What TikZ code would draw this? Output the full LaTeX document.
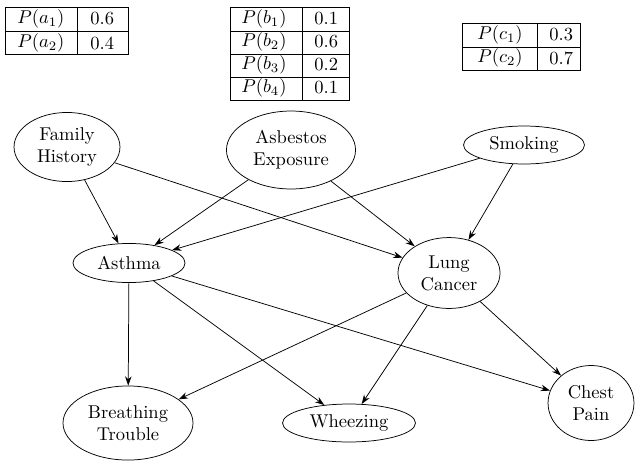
\documentclass[tikz,border=0pt]{standalone}
\usetikzlibrary{shapes.geometric,arrows.meta}
\begin{document}
\begin{tikzpicture}[x=0.54pt,y=-0.54pt,
  ev/.style={draw,ellipse,inner sep=0pt,align=center,font=\normalsize},
  edge/.style={-{Stealth[length=5pt,width=3.5pt]},line width=0.4pt},
  tab/.style={line width=0.5pt},
  cell/.style={anchor=west,inner sep=0pt}]
\useasboundingbox (0,0) rectangle (641,465);
% tables
\draw[tab] (5,7) rectangle (128,54) (5,31)--(128,31) (77,7)--(77,54);
\node[cell] (a1) at (17,19) {$P(a_1)$};
\node[cell] (a1v) at (90,19) {0.6};
\node[cell] (a2) at (17,43) {$P(a_2)$};
\node[cell] (a2v) at (90,43) {0.4};
\draw[tab] (230,7) rectangle (349,100) (230,31)--(349,31) (230,54)--(349,54) (230,77)--(349,77) (302,7)--(302,100);
\node[cell] (b1) at (241,19) {$P(b_1)$};
\node[cell] (b1v) at (314,19) {0.1};
\node[cell] (b2) at (241,42) {$P(b_2)$};
\node[cell] (b2v) at (314,42) {0.6};
\node[cell] (b3) at (241,65) {$P(b_3)$};
\node[cell] (b3v) at (314,65) {0.2};
\node[cell] (b4) at (241,88) {$P(b_4)$};
\node[cell] (b4v) at (314,88) {0.1};
\draw[tab] (462,23) rectangle (580,70) (462,47)--(580,47) (537,23)--(537,70);
\node[cell] (c1) at (477,35) {$P(c_1)$};
\node[cell] (c1v) at (549,35) {0.3};
\node[cell] (c2) at (477,58) {$P(c_2)$};
\node[cell] (c2v) at (549,58) {0.7};
% nodes
\node[ev,minimum width=57.2pt,minimum height=37.3pt] (fh) at (67,147) {Family\\History};
\node[ev,minimum width=69.7pt,minimum height=42.1pt] (ae) at (291,150) {Asbestos\\Exposure};
\node[ev,minimum width=65.3pt,minimum height=20.5pt] (sm) at (524,145) {Smoking};
\node[ev,minimum width=60.5pt,minimum height=21.1pt] (as) at (129,263) {Asthma};
\node[ev,minimum width=55.1pt,minimum height=38.3pt] (lc) at (449,273) {Lung\\Cancer};
\node[ev,minimum width=70.2pt,minimum height=40pt] (bt) at (128,423) {Breathing\\Trouble};
\node[ev,minimum width=71.8pt,minimum height=20.5pt] (wh) at (349,423) {Wheezing};
\node[ev,minimum width=46.4pt,minimum height=40.5pt] (cp) at (591,403) {Chest\\Pain};
% edges
\draw[edge] (fh) -- (as);
\draw[edge] (fh) -- (lc);
\draw[edge] (ae) -- (as);
\draw[edge] (ae) -- (lc);
\draw[edge] (sm) -- (as);
\draw[edge] (sm) -- (lc);
\draw[edge] (as) -- (bt);
\draw[edge] (as) -- (wh);
\draw[edge] (as) -- (cp);
\draw[edge] (lc) -- (bt);
\draw[edge] (lc) -- (wh);
\draw[edge] (lc) -- (cp);
\end{tikzpicture}
\end{document}
